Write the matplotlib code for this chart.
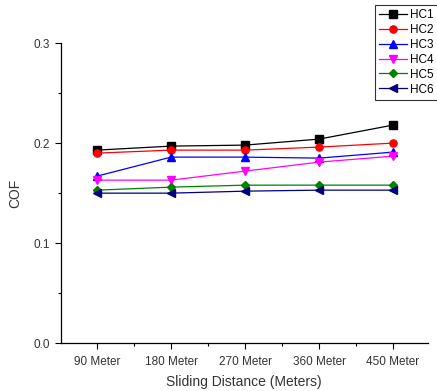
# COF against sliding distance for six coatings, Origin-style line plot.
import matplotlib
matplotlib.use("Agg")
import matplotlib.pyplot as plt
from matplotlib.ticker import MultipleLocator

plt.rcParams['font.family'] = ['Liberation Sans', 'DejaVu Sans']

distances = ["90 Meter", "180 Meter", "270 Meter", "360 Meter", "450 Meter"]
hc1 = [0.193, 0.197, 0.198, 0.204, 0.218]
hc2 = [0.190, 0.193, 0.193, 0.196, 0.200]
hc3 = [0.167, 0.186, 0.186, 0.185, 0.191]
hc4 = [0.163, 0.163, 0.172, 0.181, 0.187]
hc5 = [0.153, 0.156, 0.158, 0.158, 0.158]
hc6 = [0.150, 0.150, 0.152, 0.153, 0.153]

series = [
    ("HC1", hc1, "black", "s"),
    ("HC2", hc2, "red", "o"),
    ("HC3", hc3, "blue", "^"),
    ("HC4", hc4, "magenta", "v"),
    ("HC5", hc5, "green", "D"),
    ("HC6", hc6, "navy", "<"),
]

fig = plt.figure(figsize=(4.37, 3.91), dpi=100)
ax = fig.add_axes([0.139, 0.122, 0.840, 0.768])

x = list(range(len(distances)))
for name, vals, color, marker in series:
    ms = 4.3 if marker == "D" else 5.2
    ax.plot(x, vals, color=color, marker=marker, markersize=ms, lw=0.9,
            label=name)

ax.set_xlim(-0.49, 4.47)
ax.set_ylim(0.0, 0.3)
ax.set_xticks(x)
ax.set_xticklabels(distances)
ax.xaxis.set_minor_locator(MultipleLocator(0.5))
ax.yaxis.set_major_locator(MultipleLocator(0.1))
ax.yaxis.set_minor_locator(MultipleLocator(0.05))
ax.yaxis.set_major_formatter(plt.FuncFormatter(lambda v, p: f"{v:.1f}"))

for side in ("top", "right"):
    ax.spines[side].set_visible(False)
for side in ("left", "bottom"):
    ax.spines[side].set_linewidth(0.9)

ax.tick_params(which="major", direction="out", length=4, width=0.8,
               labelsize=8.5, labelcolor="#333333")
ax.tick_params(which="minor", direction="out", length=2.5, width=0.8)
ax.tick_params(axis="x", which="minor", bottom=True)
ax.tick_params(axis="x", pad=5)

ax.set_xlabel("Sliding Distance (Meters)", fontsize=10, color="#333333", labelpad=5)
ax.set_ylabel("COF", fontsize=10, color="#333333", labelpad=8)

leg = fig.legend(loc="upper left", bbox_to_anchor=(0.858, 0.988),
                 fontsize=8.5, frameon=True, fancybox=False, edgecolor="black",
                 handlelength=2.4, handletextpad=0.2, labelspacing=0.25,
                 borderpad=0.35, borderaxespad=0)
leg.get_frame().set_linewidth(0.8)

fig.savefig("out.png", dpi=100)
